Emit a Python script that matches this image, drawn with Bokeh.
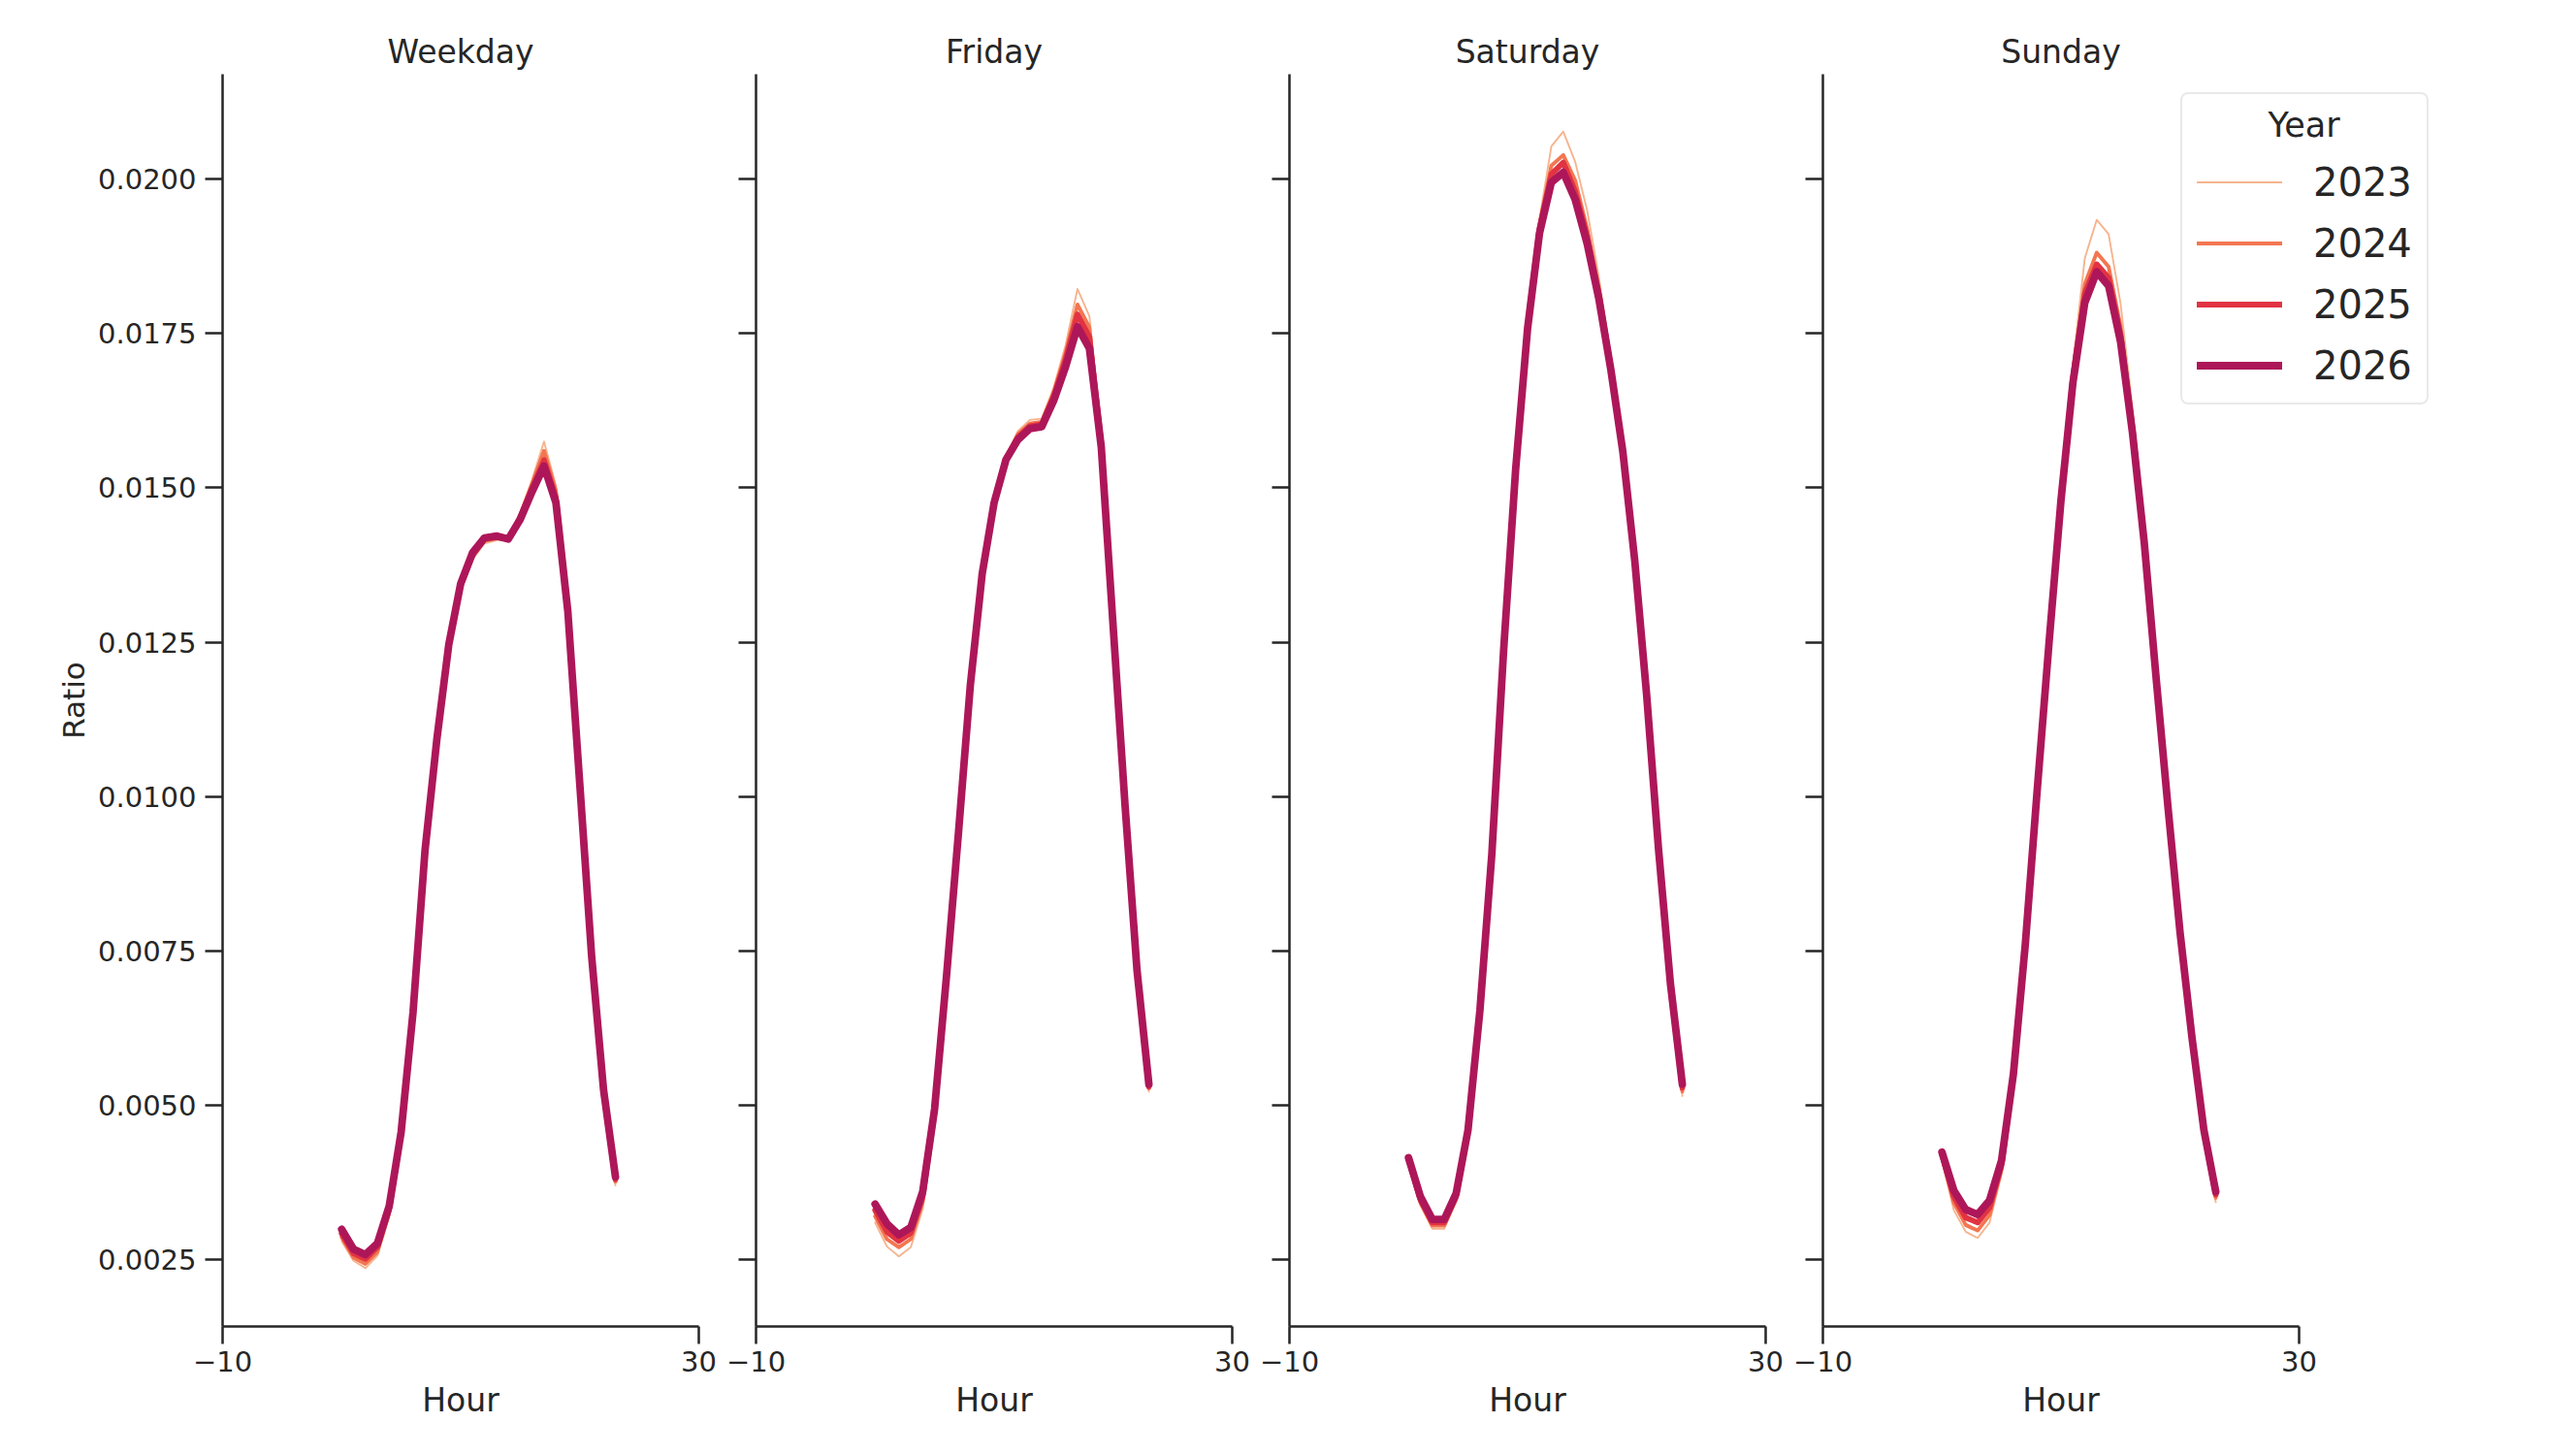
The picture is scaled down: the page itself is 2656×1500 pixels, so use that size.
from bokeh.plotting import figure
from bokeh.layouts import row
from bokeh.models import (FixedTicker, NumeralTickFormatter, CustomJSTickFormatter,
                          Legend, LegendItem, Range1d, Title, Label)
from bokeh.embed import file_html
from bokeh.resources import INLINE

# Share of daily trips per hour, by day type and year
HOURS = list(range(24))
YEARS = ["2023", "2024", "2025", "2026"]
PANELS = ["Weekday", "Friday", "Saturday", "Sunday"]

weekday_2023 = [0.00280, 0.00248, 0.00236, 0.00256, 0.00320, 0.00448, 0.00645, 0.00905, 0.01087, 0.01238, 0.01333, 0.01384,
                0.01410, 0.01415, 0.01418, 0.01460, 0.01513, 0.01575, 0.01503, 0.01310, 0.01016, 0.00735, 0.00515, 0.00370]
weekday_2024 = [0.00286, 0.00253, 0.00243, 0.00262, 0.00326, 0.00452, 0.00648, 0.00908, 0.01090, 0.01242, 0.01338, 0.01388,
                0.01414, 0.01418, 0.01418, 0.01456, 0.01507, 0.01560, 0.01495, 0.01305, 0.01018, 0.00737, 0.00519, 0.00376]
weekday_2025 = [0.00292, 0.00260, 0.00251, 0.00270, 0.00332, 0.00455, 0.00650, 0.00910, 0.01092, 0.01245, 0.01342, 0.01392,
                0.01417, 0.01420, 0.01417, 0.01452, 0.01500, 0.01545, 0.01484, 0.01302, 0.01020, 0.00739, 0.00522, 0.00380]
weekday_2026 = [0.00299, 0.00267, 0.00258, 0.00276, 0.00337, 0.00457, 0.00651, 0.00912, 0.01093, 0.01246, 0.01345, 0.01395,
                0.01419, 0.01422, 0.01417, 0.01449, 0.01494, 0.01535, 0.01476, 0.01300, 0.01021, 0.00741, 0.00525, 0.00384]

friday_2023 = [0.00310, 0.00271, 0.00255, 0.00270, 0.00332, 0.00480, 0.00698, 0.00932, 0.01174, 0.01358, 0.01478, 0.01551,
               0.01592, 0.01610, 0.01612, 0.01662, 0.01731, 0.01822, 0.01778, 0.01585, 0.01280, 0.00982, 0.00710, 0.00522]
friday_2024 = [0.00320, 0.00283, 0.00270, 0.00283, 0.00343, 0.00486, 0.00702, 0.00935, 0.01176, 0.01359, 0.01477, 0.01549,
               0.01587, 0.01604, 0.01607, 0.01655, 0.01718, 0.01797, 0.01760, 0.01578, 0.01278, 0.00983, 0.00713, 0.00527]
friday_2025 = [0.00330, 0.00295, 0.00280, 0.00293, 0.00352, 0.00490, 0.00706, 0.00938, 0.01178, 0.01360, 0.01476, 0.01547,
               0.01582, 0.01600, 0.01603, 0.01648, 0.01708, 0.01781, 0.01745, 0.01572, 0.01276, 0.00984, 0.00716, 0.00530]
friday_2026 = [0.00340, 0.00308, 0.00290, 0.00302, 0.00360, 0.00494, 0.00709, 0.00940, 0.01180, 0.01361, 0.01476, 0.01546,
               0.01578, 0.01596, 0.01599, 0.01641, 0.01696, 0.01761, 0.01726, 0.01566, 0.01275, 0.00985, 0.00719, 0.00534]

saturday_2023 = [0.00408, 0.00338, 0.00300, 0.00300, 0.00344, 0.00452, 0.00648, 0.00905, 0.01245, 0.01542, 0.01775, 0.01935,
                 0.02053, 0.02077, 0.02028, 0.01950, 0.01840, 0.01712, 0.01566, 0.01380, 0.01158, 0.00907, 0.00686, 0.00515]
saturday_2024 = [0.00410, 0.00342, 0.00305, 0.00305, 0.00348, 0.00455, 0.00650, 0.00905, 0.01242, 0.01537, 0.01768, 0.01926,
                 0.02022, 0.02039, 0.01998, 0.01920, 0.01822, 0.01700, 0.01562, 0.01381, 0.01160, 0.00910, 0.00690, 0.00522]
saturday_2025 = [0.00412, 0.00347, 0.00310, 0.00310, 0.00352, 0.00457, 0.00652, 0.00906, 0.01240, 0.01533, 0.01763, 0.01920,
                 0.02008, 0.02027, 0.01980, 0.01908, 0.01812, 0.01694, 0.01560, 0.01382, 0.01163, 0.00912, 0.00693, 0.00528]
saturday_2026 = [0.00415, 0.00352, 0.00315, 0.00315, 0.00357, 0.00460, 0.00654, 0.00907, 0.01240, 0.01530, 0.01758, 0.01912,
                 0.01995, 0.02011, 0.01967, 0.01896, 0.01805, 0.01691, 0.01559, 0.01383, 0.01165, 0.00915, 0.00697, 0.00534]

sunday_2023 = [0.00410, 0.00330, 0.00295, 0.00285, 0.00310, 0.00388, 0.00538, 0.00754, 0.01010, 0.01256, 0.01495, 0.01700,
               0.01872, 0.01934, 0.01911, 0.01799, 0.01630, 0.01425, 0.01197, 0.00980, 0.00776, 0.00604, 0.00450, 0.00343]
sunday_2024 = [0.00416, 0.00342, 0.00306, 0.00297, 0.00322, 0.00396, 0.00542, 0.00756, 0.01010, 0.01254, 0.01488, 0.01686,
               0.01830, 0.01881, 0.01858, 0.01762, 0.01606, 0.01418, 0.01194, 0.00980, 0.00778, 0.00606, 0.00454, 0.00350]
sunday_2025 = [0.00420, 0.00352, 0.00318, 0.00310, 0.00334, 0.00402, 0.00546, 0.00758, 0.01010, 0.01252, 0.01484, 0.01678,
               0.01815, 0.01862, 0.01840, 0.01748, 0.01598, 0.01414, 0.01192, 0.00980, 0.00779, 0.00608, 0.00457, 0.00355]
sunday_2026 = [0.00424, 0.00362, 0.00331, 0.00323, 0.00346, 0.00410, 0.00550, 0.00760, 0.01010, 0.01250, 0.01480, 0.01670,
               0.01800, 0.01850, 0.01827, 0.01737, 0.01590, 0.01410, 0.01190, 0.00980, 0.00780, 0.00610, 0.00460, 0.00360]

X_TICKS = [-10, 30]
Y_TICKS = [0.0025, 0.0050, 0.0075, 0.0100, 0.0125, 0.0150, 0.0175, 0.0200]

series = {
    "Weekday": dict(zip(YEARS, [weekday_2023, weekday_2024, weekday_2025, weekday_2026])),
    "Friday": dict(zip(YEARS, [friday_2023, friday_2024, friday_2025, friday_2026])),
    "Saturday": dict(zip(YEARS, [saturday_2023, saturday_2024, saturday_2025, saturday_2026])),
    "Sunday": dict(zip(YEARS, [sunday_2023, sunday_2024, sunday_2025, sunday_2026])),
}

COLORS = {"2023": "#f6b48f", "2024": "#f37651", "2025": "#e13342", "2026": "#ad1759"}
WIDTHS = {"2023": 1.9, "2024": 3.9, "2025": 5.8, "2026": 7.8}

INK = "#262626"
FONT = "DejaVu Sans"
AXIS_W = 491            # pixel width of the -10..30 hour span
PX_PER_HOUR = AXIS_W / 40
EXTRA_W = 139           # room at the right of the last panel for the legend
FRAME_H = 1291
TOP = 76
BOTTOM = 133
TITLE_PX = 33
LABEL_PX = 33

# DejaVu Sans advance widths (em), used to centre left-aligned titles over the hour span
ADV = {"S": 0.635, "u": 0.634, "n": 0.634, "d": 0.635, "a": 0.613, "y": 0.592,
       "H": 0.752, "o": 0.612, "r": 0.411}


def text_width(s, size):
    return sum(ADV.get(ch, 0.62) for ch in s) * size


figs = []
renderers = {}
for i, name in enumerate(PANELS):
    is_last = i == len(PANELS) - 1
    left = 229 if i == 0 else 39
    right = 20
    frame_w = AXIS_W + (EXTRA_W if is_last else 0)
    x_end = -10 + frame_w / PX_PER_HOUR
    p = figure(width=left + frame_w + right, height=TOP + FRAME_H + BOTTOM,
               x_range=Range1d(-10, x_end), y_range=Range1d(0.001416, 0.0217),
               output_backend="svg", toolbar_location=None, title=name,
               min_border_left=left, min_border_right=right,
               min_border_top=TOP, min_border_bottom=BOTTOM)
    p.outline_line_color = None
    p.background_fill_color = "white"
    p.border_fill_color = "white"
    p.xgrid.visible = False
    p.ygrid.visible = False

    p.title.text_font = FONT
    p.title.text_font_size = f"{TITLE_PX}px"
    p.title.text_font_style = "normal"
    p.title.text_color = INK
    p.title.standoff = 8
    if is_last:
        p.title.align = "left"
        p.title.offset = AXIS_W / 2 - text_width(name, TITLE_PX) / 2
    else:
        p.title.align = "center"

    for ax in (p.xaxis[0], p.yaxis[0]):
        ax.axis_line_width = 2.5
        ax.axis_line_color = INK
        ax.major_tick_line_width = 2.5
        ax.major_tick_line_color = INK
        ax.major_tick_out = 18
        ax.major_tick_in = 0
        ax.minor_tick_line_color = None
        ax.major_label_text_font = FONT
        ax.major_label_text_font_size = "29px"
        ax.major_label_text_color = INK
        ax.axis_label_text_font = FONT
        ax.axis_label_text_font_size = f"{LABEL_PX}px"
        ax.axis_label_text_font_style = "normal"
        ax.axis_label_text_color = INK

    xa = p.xaxis[0]
    xa.ticker = FixedTicker(ticks=X_TICKS)
    xa.bounds = (-10, 30)
    xa.formatter = CustomJSTickFormatter(
        code="return tick < 0 ? '\\u2212' + Math.abs(tick) : String(tick);")
    xa.major_label_standoff = 7
    if is_last:
        # the frame is wider than the hour span here, so centre the label by hand
        hour_title = Title(text="Hour", align="left",
                           offset=AXIS_W / 2 - text_width("Hour", LABEL_PX) / 2,
                           standoff=10, text_font=FONT, text_font_size=f"{LABEL_PX}px",
                           text_font_style="normal", text_color=INK)
        p.add_layout(hour_title, "below")
    else:
        xa.axis_label = "Hour"
        xa.axis_label_standoff = 7

    ya = p.yaxis[0]
    ya.ticker = FixedTicker(ticks=Y_TICKS)
    if i == 0:
        ya.formatter = NumeralTickFormatter(format="0.0000")
        ya.major_label_standoff = 9
        ya.axis_label = "Ratio"
        ya.axis_label_text_font_size = "31px"
        ya.axis_label_standoff = 4
    else:
        ya.formatter = CustomJSTickFormatter(code="return '';")
        ya.major_label_standoff = 0

    for year in YEARS:
        r = p.line(HOURS, series[name][year], line_color=COLORS[year],
                   line_width=WIDTHS[year], line_cap="round", line_join="round")
        renderers.setdefault(name, {})[year] = r
    figs.append(p)

last = figs[-1]
LEG_X, LEG_Y = 369, 950
# centred legend heading
last.add_layout(Label(x=LEG_X + 127, y=LEG_Y + 289, x_units="screen", y_units="screen",
                      text="Year", text_align="center", text_baseline="middle",
                      text_font=FONT, text_font_size="35px", text_color=INK))
legend_opts = dict(
    items=[LegendItem(label=y, renderers=[renderers[PANELS[-1]][y]]) for y in YEARS],
    location=(LEG_X, LEG_Y),
    title=" ",
    title_text_font=FONT, title_text_font_size="35px", title_text_font_style="normal",
    title_text_color=INK, title_standoff=12,
    label_text_font=FONT, label_text_font_size="40px", label_text_color=INK,
    glyph_width=88, glyph_height=47, label_height=47, label_standoff=32,
    spacing=16, padding=15, margin=0,
    border_line_color="#d3d3d3", border_line_width=2.5,
    background_fill_alpha=0.0,
)
if "border_radius" in Legend.properties():
    legend_opts["border_radius"] = 8
legend = Legend(**legend_opts)
last.add_layout(legend)

layout = row(*figs)
open("out.html", "w").write(file_html(layout, INLINE))
